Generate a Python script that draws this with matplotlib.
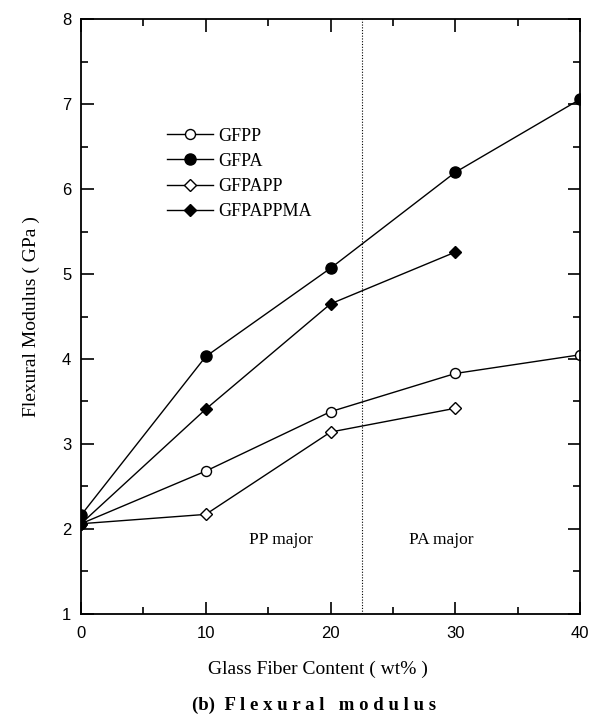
import matplotlib.pyplot as plt
from matplotlib.ticker import MultipleLocator

# glass fiber content (wt%)
gf = [0, 10, 20, 30, 40]
gf3 = [0, 10, 20, 30]

# flexural modulus (GPa)
gfpp = [2.06, 2.68, 3.38, 3.83, 4.05]
gfpa = [2.16, 4.03, 5.07, 6.20, 7.06]
gfpapp = [2.06, 2.17, 3.14, 3.42]
gfpappma = [2.06, 3.41, 4.65, 5.26]

fig = plt.figure(figsize=(5.98, 7.22), dpi=100)
ax = fig.add_axes([0.1355, 0.150, 0.8345, 0.823])

serif = 'Liberation Serif'
sans = 'Liberation Sans'

ax.plot(gf, gfpp, 'k-', lw=1, marker='o', ms=7.2, mfc='white', mec='k', mew=1, label='GFPP')
ax.plot(gf, gfpa, 'k-', lw=1, marker='o', ms=8, mfc='k', mec='k', label='GFPA')
ax.plot(gf3, gfpapp, 'k-', lw=1, marker='D', ms=6.3, mfc='white', mec='k', mew=1, label='GFPAPP')
ax.plot(gf3, gfpappma, 'k-', lw=1, marker='D', ms=6.3, mfc='k', mec='k', label='GFPAPPMA')

# boundary between PP-major and PA-major blends
ax.axvline(22.5, color='k', lw=0.8, ls=(0, (1, 1.5)))
ax.text(16.0, 1.87, 'PP major', family=serif, fontsize=12.5, ha='center', va='center')
ax.text(28.9, 1.87, 'PA major', family=serif, fontsize=12.5, ha='center', va='center')

ax.set_xlim(0, 40)
ax.set_ylim(1, 8)
ax.xaxis.set_major_locator(MultipleLocator(10))
ax.xaxis.set_minor_locator(MultipleLocator(5))
ax.yaxis.set_major_locator(MultipleLocator(1))
ax.yaxis.set_minor_locator(MultipleLocator(0.5))
ax.tick_params(which='both', direction='in', top=True, right=True, width=1.2)
ax.tick_params(which='major', length=9, labelsize=12)
ax.tick_params(axis='x', which='major', pad=9)
ax.tick_params(axis='y', which='major', pad=7)
ax.tick_params(which='minor', length=5)
for lab in ax.get_xticklabels() + ax.get_yticklabels():
    lab.set_family(sans)
for s in ax.spines.values():
    s.set_linewidth(1.3)

ax.set_xlabel('Glass Fiber Content ( wt% )', family=serif, fontsize=14, labelpad=14)
ax.xaxis.label.set_x(0.475)
ax.set_ylabel('Flexural Modulus ( GPa )', family=serif, fontsize=14, labelpad=16)

leg = ax.legend(loc='upper left', bbox_to_anchor=(0.172, 0.818), frameon=False,
                prop={'family': serif, 'size': 13}, handlelength=2.55,
                handletextpad=0.28, labelspacing=0.45, borderpad=0, borderaxespad=0)

fig.text(0.525, 0.023, '(b)  F l e x u r a l   m o d u l u s', family=serif,
         fontsize=13.5, fontweight='bold', ha='center', va='center')

fig.savefig('out.png', dpi=100)
